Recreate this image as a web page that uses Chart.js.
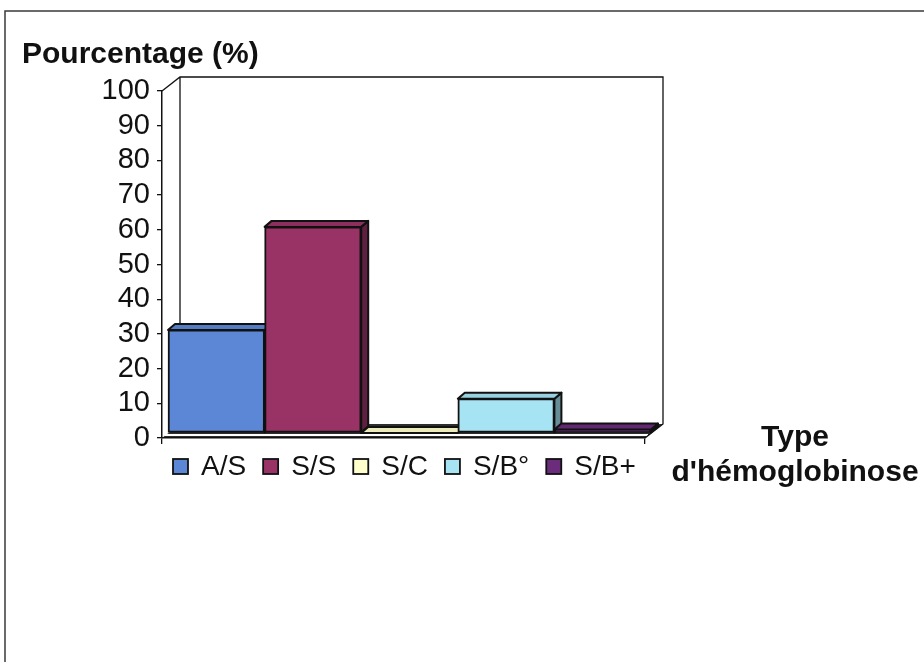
<!DOCTYPE html>
<html lang="fr">
<head>
<meta charset="utf-8">
<title>Types d'hémoglobinose</title>
<script src="https://cdn.jsdelivr.net/npm/chart.js@4/dist/chart.umd.min.js"></script>
<style>
  html, body { margin: 0; padding: 0; background: #fff; }
  #wrap { width: 924px; height: 662px; position: relative; }
  canvas { display: block; }
</style>
</head>
<body>
<div id="wrap"><canvas id="c" width="924" height="662"></canvas></div>
<script>
// ---- data ----
const categories = [''];                                   // one group of columns
const seriesNames = ['A/S', 'S/S', 'S/C', 'S/B°', 'S/B+'];
const seriesValues = [29.7, 59.4, 0, 9.9, 1.0];            // percentages
const seriesColors = ['#5b87d6', '#993366', '#ffffcc', '#a6e3f3', '#6b2c7c'];
const yTickValues = [0, 10, 20, 30, 40, 50, 60, 70, 80, 90, 100];
const yAxisTitle = 'Pourcentage (%)';
const xAxisTitle = ['Type', "d'hémoglobinose"];

// ---- 3D look ----
const WALL = { dx: 18, dy: -14 };   // depth of floor / back wall
const SHIFT = { dx: 6, dy: -5 };    // columns sit a little behind the front plane
const BOX = { dx: 7, dy: -6 };      // depth of each column

function shade(hex, k) {
  const n = parseInt(hex.slice(1), 16);
  const r = Math.round(((n >> 16) & 255) * k);
  const g = Math.round(((n >> 8) & 255) * k);
  const b = Math.round((n & 255) * k);
  return `rgb(${r},${g},${b})`;
}

const frame3d = {
  id: 'frame3d',
  beforeDraw(chart) {
    const { ctx, chartArea: a } = chart;
    const L = a.left, R = a.right, T = a.top, B = a.bottom;
    ctx.save();
    ctx.fillStyle = '#fff';
    ctx.fillRect(0, 0, chart.width, chart.height);

    // outer border
    ctx.strokeStyle = '#3a3a3a';
    ctx.lineWidth = 1.5;
    ctx.beginPath();
    ctx.moveTo(5, chart.height);
    ctx.lineTo(5, 11);
    ctx.lineTo(chart.width, 11);
    ctx.stroke();

    // floor
    ctx.fillStyle = '#2e2e2e';
    ctx.beginPath();
    ctx.moveTo(L, B);
    ctx.lineTo(R, B);
    ctx.lineTo(R + WALL.dx, B + WALL.dy);
    ctx.lineTo(L + WALL.dx, B + WALL.dy);
    ctx.closePath();
    ctx.fill();
    ctx.strokeStyle = '#fff';
    ctx.lineWidth = 2;
    ctx.beginPath();
    ctx.moveTo(L + 3, B - 3);
    ctx.lineTo(R + 3, B - 3);
    ctx.stroke();

    // back wall and side edges
    ctx.strokeStyle = '#111';
    ctx.lineWidth = 1.3;
    ctx.beginPath();
    ctx.moveTo(L, T);
    ctx.lineTo(L + WALL.dx, T + WALL.dy);
    ctx.lineTo(R + WALL.dx, T + WALL.dy);
    ctx.lineTo(R + WALL.dx, B + WALL.dy);
    ctx.lineTo(R, B);
    ctx.moveTo(L + WALL.dx, T + WALL.dy);
    ctx.lineTo(L + WALL.dx, B + WALL.dy);
    ctx.stroke();
    ctx.restore();
  },
  beforeDatasetsDraw(chart) {
    const ctx = chart.ctx;
    ctx.save();
    ctx.translate(SHIFT.dx, SHIFT.dy);
    ctx.lineJoin = 'round';
    chart.data.datasets.forEach((ds, i) => {
      const el = chart.getDatasetMeta(i).data[0];
      if (!el) return;
      const { x, y, base, width } = el.getProps(['x', 'y', 'base', 'width'], true);
      const x0 = x - width / 2, x1 = x + width / 2;
      const col = ds.backgroundColor;
      ctx.strokeStyle = '#111';
      ctx.lineWidth = 2;
      // right side face
      ctx.fillStyle = shade(col, 0.62);
      ctx.beginPath();
      ctx.moveTo(x1, y);
      ctx.lineTo(x1 + BOX.dx, y + BOX.dy);
      ctx.lineTo(x1 + BOX.dx, base + BOX.dy);
      ctx.lineTo(x1, base);
      ctx.closePath();
      ctx.fill();
      ctx.stroke();
      // top face
      ctx.fillStyle = shade(col, 0.92);
      ctx.beginPath();
      ctx.moveTo(x0, y);
      ctx.lineTo(x1, y);
      ctx.lineTo(x1 + BOX.dx, y + BOX.dy);
      ctx.lineTo(x0 + BOX.dx, y + BOX.dy);
      ctx.closePath();
      ctx.fill();
      ctx.stroke();
    });
  },
  afterDatasetsDraw(chart) {
    chart.ctx.restore();
  },
  afterDraw(chart) {
    const ctx = chart.ctx;
    ctx.save();
    // axis titles
    ctx.fillStyle = '#111';
    ctx.font = 'bold 30px "Liberation Sans", Arial, sans-serif';
    ctx.textBaseline = 'alphabetic';
    ctx.textAlign = 'left';
    ctx.fillText(yAxisTitle, 22, 63);
    ctx.textAlign = 'center';
    ctx.fillText(xAxisTitle[0], 795, 446);
    ctx.fillText(xAxisTitle[1], 795, 481);

    // legend row
    ctx.font = '28px "Liberation Sans", Arial, sans-serif';
    ctx.textAlign = 'left';
    ctx.textBaseline = 'middle';
    let lx = 173;
    const ly = 466;
    chart.data.datasets.forEach(ds => {
      ctx.fillStyle = ds.backgroundColor;
      ctx.fillRect(lx, ly - 7, 15, 15);
      ctx.strokeStyle = '#111';
      ctx.lineWidth = 1.8;
      ctx.strokeRect(lx, ly - 7, 15, 15);
      ctx.fillStyle = '#111';
      ctx.fillText(ds.label, lx + 15 + 13, ly + 1);
      lx += 15 + 13 + ctx.measureText(ds.label).width + 17;
    });
    ctx.restore();
  }
};

new Chart(document.getElementById('c'), {
  type: 'bar',
  data: {
    labels: categories,
    datasets: seriesNames.map((name, i) => ({
      label: name,
      data: [seriesValues[i]],
      backgroundColor: seriesColors[i],
      borderColor: '#111',
      borderWidth: 2,
      borderSkipped: false,
      categoryPercentage: 1,
      barPercentage: 1,
      clip: false
    }))
  },
  options: {
    responsive: false,
    animation: false,
    devicePixelRatio: 1,
    layout: { padding: { top: 91, right: 279, bottom: 200, left: 0 } },
    plugins: { legend: { display: false }, tooltip: { enabled: false }, title: { display: false } },
    scales: {
      x: {
        offset: true,
        afterFit(scale) { scale.height = 24; },
        ticks: { display: false },
        grid: { drawOnChartArea: false, drawTicks: true, tickLength: 6, color: '#111', lineWidth: 1.3 },
        border: { display: true, color: '#111', width: 1.5 }
      },
      y: {
        min: 0,
        max: 100,
        afterFit(scale) { scale.width = 162; },
        afterBuildTicks(scale) { scale.ticks = yTickValues.map(v => ({ value: v })); },
        ticks: {
          autoSkip: false,
          padding: 7,
          color: '#111',
          font: { family: '"Liberation Sans", Arial, sans-serif', size: 29 }
        },
        grid: { drawOnChartArea: false, drawTicks: true, tickLength: 5, color: '#111', lineWidth: 1.3 },
        border: { display: true, color: '#111', width: 1.5 }
      }
    }
  },
  plugins: [frame3d]
});
</script>
</body>
</html>
